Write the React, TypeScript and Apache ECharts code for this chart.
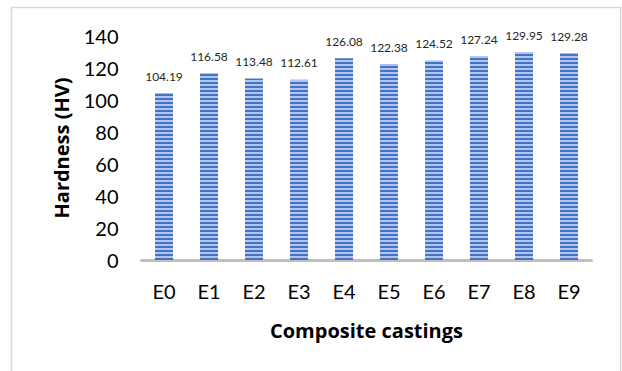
import React, { useEffect, useRef } from "react";
import * as echarts from "echarts";

const categories = ["E0", "E1", "E2", "E3", "E4", "E5", "E6", "E7", "E8", "E9"];
const hardness = [104.19, 116.58, 113.48, 112.61, 126.08, 122.38, 124.52, 127.24, 129.95, 129.28];
const yTicks = { min: 0, max: 140, interval: 20 };

const FONT = "Lato, 'Open Sans', sans-serif";
const TITLE_FONT = "'Open Sans', Lato, sans-serif";

export default function App() {
  const ref = useRef<HTMLDivElement>(null);

  useEffect(() => {
    if (!ref.current) return;
    const chart = echarts.init(ref.current, undefined, { renderer: "svg" });
    chart.setOption({
      animation: false,
      backgroundColor: "#ffffff",
      textStyle: { fontFamily: FONT },
      graphic: [
        {
          type: "rect",
          shape: { x: 11.5, y: 7.5, width: 609, height: 380 },
          style: { fill: "none", stroke: "#d9d9d9", lineWidth: 1.5 },
          silent: true,
          z: -1,
        },
      ],
      grid: { left: 141.5, right: 30.5, top: 36, bottom: 111, containLabel: false },
      xAxis: {
        type: "category",
        data: categories,
        name: "Composite castings",
        nameLocation: "middle",
        nameGap: 60,
        nameTextStyle: { fontFamily: TITLE_FONT, fontSize: 20, fontWeight: "bold", color: "#000" },
        axisLine: { lineStyle: { color: "#bfbfbf", width: 3 } },
        axisTick: { show: false },
        axisLabel: { fontFamily: FONT, fontSize: 20, color: "#000", margin: 21 },
      },
      yAxis: {
        type: "value",
        min: yTicks.min,
        max: yTicks.max,
        interval: yTicks.interval,
        name: "Hardness (HV)",
        nameLocation: "middle",
        nameGap: 70,
        nameRotate: 90,
        nameTextStyle: { fontFamily: TITLE_FONT, fontSize: 20, fontWeight: "bold", color: "#000" },
        axisLine: { show: false },
        axisTick: { show: false },
        splitLine: { show: false },
        axisLabel: { fontFamily: FONT, fontSize: 20, color: "#000", margin: 23 },
      },
      series: [
        {
          type: "bar",
          data: hardness,
          barWidth: "40%",
          itemStyle: {
            color: "#4472c4",
            decal: {
              symbol: "rect",
              symbolSize: 1,
              dashArrayX: [1, 0],
              dashArrayY: [1.3, 2],
              color: "rgba(205, 218, 245, 0.8)",
              rotation: 0,
            },
          },
          label: {
            show: true,
            position: "top",
            distance: 11,
            fontFamily: FONT,
            fontSize: 12,
            color: "#262626",
            formatter: (p: any) => p.value.toFixed(2),
          },
        },
      ],
    });
    return () => chart.dispose();
  }, []);

  return (
    <div
      ref={ref}
      style={{ position: "fixed", left: 0, top: 0, width: 622, height: 371 }}
    />
  );
}
